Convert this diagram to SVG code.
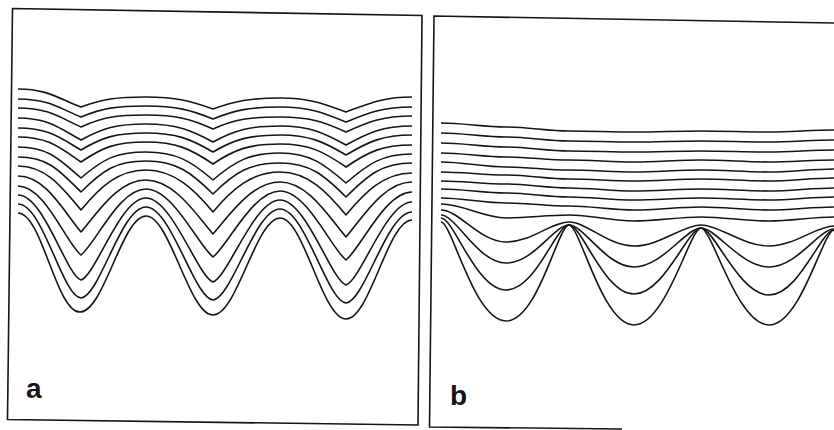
<svg xmlns="http://www.w3.org/2000/svg" width="834" height="430" viewBox="0 0 834 430">
<style>
.f{fill:none;stroke:#151515;stroke-width:1.6;stroke-linejoin:miter}
.c{fill:none;stroke:#151515;stroke-width:1.6;stroke-linejoin:round}
.lbl{font-family:"Liberation Sans",Arial,sans-serif;font-weight:bold;font-size:28px;fill:#151515}
</style>
<rect width="834" height="430" fill="#fff"/>
<g id="panel-a">
<path class="f" d="M12.5,8.5 L422,15.5 L418,425 L7.5,419.5 Z"/>
<g id="curves-a">
<path class="c" d="M18,89 C48,89 59,99 81,107 C103,99 116,97 146,97 C176,97 191,101 213,109 C235,101 250,98 280,98 C310,98 324,104 346,112 C368,104 382,97 412,97"/>
<path class="c" d="M18,99 C48,99 59,108 81,117 C103,108 116,106 146,106 C176,106 191,110 213,119 C235,110 250,107 280,107 C310,107 324,113 346,122 C368,113 382,107 412,107"/>
<path class="c" d="M18,108 C48,108 59,117 81,127 C103,117 116,115 146,115 C176,115 191,119 213,129 C235,119 250,117 280,117 C310,117 324,122 346,132 C368,122 382,116 412,116"/>
<path class="c" d="M18,118 C48,118 59,128 81,140 C103,128 116,124 146,124 C176,124 191,130 213,142 C235,130 250,126 280,126 C310,126 324,133 346,145 C368,133 382,126 412,126"/>
<path class="c" d="M18,128 C48,128 59,137 81,150 C103,137 116,133 146,133 C176,133 191,139 213,152 C235,139 250,135 280,135 C310,135 324,142 346,155 C368,142 382,135 412,135"/>
<path class="c" d="M18,137 C48,137 59,147 81,162 C103,147 116,142 146,142 C176,142 191,149 213,164 C235,149 250,144 280,144 C310,144 324,152 346,167 C368,152 382,145 412,145"/>
<path class="c" d="M18,147 C48,147 59,159 81,178 C103,159 116,152 146,152 C176,152 191,161 213,180 C235,161 250,153 280,153 C310,153 324,164 346,183 C368,164 382,154 412,154"/>
<path class="c" d="M18,157 C48,157 59,170 81,192 C103,170 116,161 146,161 C176,161 191,172 213,194 C235,172 250,163 280,163 C310,163 324,175 346,197 C368,175 382,163 412,163"/>
<path class="c" d="M18,166 C46,166 62,187 81,210 C100,187 118,170 146,170 C174,170 194,189 213,212 C232,189 252,172 280,172 C308,172 327,192 346,215 C365,192 384,173 412,173"/>
<path class="c" d="M18,176 C46,176 64,212 81,232 C98,212 118,180 146,180 C174,180 196,214 213,234 C230,214 252,182 280,182 C308,182 329,217 346,237 C363,217 384,182 412,182"/>
<path class="c" d="M18,186 C45,186 66,243 81,255 C96,243 119,189 146,189 C173,189 198,245 213,257 C228,245 253,191 280,191 C307,191 331,248 346,260 C361,248 385,192 412,192"/>
<path class="c" d="M18,195 C44,195 66,275 81,280 C96,275 120,198 146,198 C172,198 198,277 213,282 C228,277 254,200 280,200 C306,200 331,280 346,285 C361,280 386,202 412,202"/>
<path class="c" d="M18,204 C43,204 62,296 81,298 C100,296 121,207 146,207 C171,207 194,298 213,300 C232,298 255,209 280,209 C305,209 327,301 346,303 C365,301 387,212 412,212"/>
<path class="c" d="M18,213 C42,213 56,312 80,312 C104,312 122,216 146,216 C170,216 189,315 213,315 C237,315 256,218 280,218 C304,218 322,319 346,319 C370,319 388,220 412,220"/>
</g>
<text class="lbl" x="26" y="397.5">a</text>
</g>
<g id="panel-b">
<path class="f" d="M834,23 L434,16 L429.5,427 L622,429"/>
<g id="curves-b">
<path class="c" d="M441,123 C463,123 484,127 506,127 C528,127 547,131 569,131 C591,131 612,132 634,132 C656,132 679,131 701,131 C723,131 747,132 769,132 C791,132 812,130 834,130"/>
<path class="c" d="M441,133 C463,133 484,137 506,137 C528,137 547,141 569,141 C591,141 612,142 634,142 C656,142 679,141 701,141 C723,141 747,142 769,142 C791,142 812,140 834,140"/>
<path class="c" d="M441,143 C463,143 484,147 506,147 C528,147 547,151 569,151 C591,151 612,152 634,152 C656,152 679,151 701,151 C723,151 747,152 769,152 C791,152 812,150 834,150"/>
<path class="c" d="M441,153 C463,153 484,157 506,157 C528,157 547,160 569,160 C591,160 612,162 634,162 C656,162 679,160 701,160 C723,160 747,162 769,162 C791,162 812,160 834,160"/>
<path class="c" d="M441,162 C463,162 484,167 506,167 C528,167 547,170 569,170 C591,170 612,172 634,172 C656,172 679,170 701,170 C723,170 747,172 769,172 C791,172 812,169 834,169"/>
<path class="c" d="M441,172 C463,172 484,175 506,175 C528,175 547,179 569,179 C591,179 612,181 634,181 C656,181 679,179 701,179 C723,179 747,181 769,181 C791,181 812,178 834,178"/>
<path class="c" d="M441,181 C463,181 484,184 506,184 C528,184 547,188 569,188 C591,188 612,191 634,191 C656,191 679,189 701,189 C723,189 747,191 769,191 C791,191 812,188 834,188"/>
<path class="c" d="M441,189 C463,189 484,193 506,193 C528,193 547,197 569,197 C591,197 612,200 634,200 C656,200 679,198 701,198 C723,198 747,200 769,200 C791,200 812,197 834,197"/>
<path class="c" d="M441,198 C463,198 484,203 506,203 C528,203 547,206 569,206 C591,206 612,210 634,210 C656,210 679,207 701,207 C723,207 747,210 769,210 C791,210 812,207 834,207"/>
<path class="c" d="M441,204 C463,204 484,218 506,218 C528,218 547,215 569,215 C591,215 612,221 634,221 C656,221 679,217 701,217 C723,217 747,221 769,221 C791,221 812,217 834,217"/>
<path class="c" d="M441,210 C459,210 480,242 506,242 C532,242 551,222 569,222 C587,222 608,246 634,246 C660,246 683,225 701,225 C719,225 743,246 769,246 C795,246 816,226 834,226"/>
<path class="c" d="M441,215 C456,215 478,263 506,263 C534,263 554,225 569,225 C584,225 606,267 634,267 C662,267 686,228 701,228 C716,228 741,267 769,267 C797,267 819,229 834,229"/>
<path class="c" d="M441,218 C454,218 476,290 506,290 C536,290 556,225 569,225 C582,225 604,294 634,294 C664,294 688,228 701,228 C714,228 739,295 769,295 C799,295 821,230 834,230"/>
<path class="c" d="M441,222 C452,222 474,321 506,321 C538,321 558,225 569,225 C580,225 602,325 634,325 C666,325 690,228 701,228 C712,228 737,325 769,325 C801,325 823,230 834,230"/>
</g>
<text class="lbl" x="450" y="405">b</text>
</g>
</svg>
